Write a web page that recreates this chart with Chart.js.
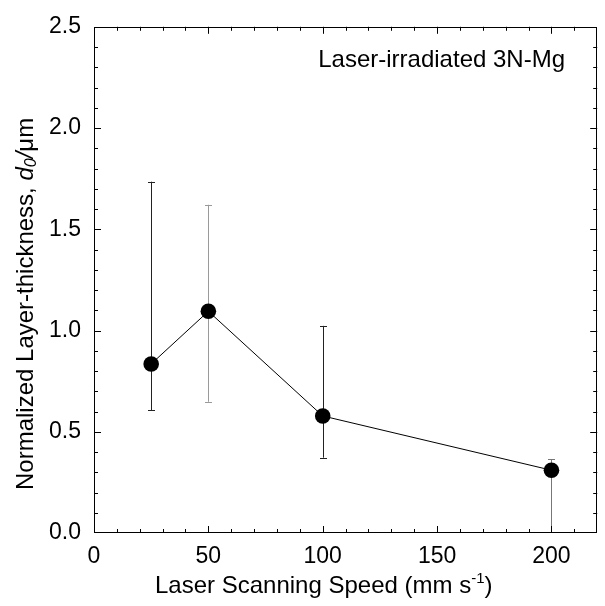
<!DOCTYPE html>
<html>
<head>
<meta charset="utf-8">
<script src="https://cdn.jsdelivr.net/npm/chart.js@4.4.1/dist/chart.umd.min.js"></script>
<style>
  html, body { margin: 0; padding: 0; background: #fff; }
  #wrap { width: 605px; height: 606px; position: relative; }
</style>
</head>
<body>
<div id="wrap"><canvas id="grafico"></canvas></div>
<script>
// values
const speeds = [25, 50, 100, 200];
const thickness = [0.835, 1.095, 0.578, 0.31];
const errLow = [0.607, 0.648, 0.372, 0.0];
const errHigh = [1.735, 1.621, 1.023, 0.365];
const xTickLabels = [0, 50, 100, 150, 200];
const yTickLabels = [0.0, 0.5, 1.0, 1.5, 2.0, 2.5];
const xMinorStep = 10;
const yMinorStep = 0.1;

const errColors = ['#222', '#9a9a9a', '#222', '#777'];
const fontFamily = '"Liberation Sans", Arial, Helvetica, sans-serif';

// error bars, frame, inward ticks, titles
const extras = {
    id: 'extras',
    beforeDatasetsDraw(chart) {
        const ctx = chart.ctx;
        const xs = chart.scales.x, ys = chart.scales.y;
        ctx.save();
        ctx.lineWidth = 1;
        speeds.forEach((s, i) => {
            const px = Math.round(xs.getPixelForValue(s)) + 0.5;
            const yTop = ys.getPixelForValue(errHigh[i]);
            const yBot = ys.getPixelForValue(errLow[i]);
            ctx.strokeStyle = errColors[i];
            ctx.beginPath();
            ctx.moveTo(px, yTop);
            ctx.lineTo(px, yBot);
            ctx.moveTo(px - 3.5, Math.round(yTop) + 0.5);
            ctx.lineTo(px + 3.5, Math.round(yTop) + 0.5);
            if (errLow[i] > 0) {
                ctx.moveTo(px - 3.5, Math.round(yBot) + 0.5);
                ctx.lineTo(px + 3.5, Math.round(yBot) + 0.5);
            }
            ctx.stroke();
        });
        ctx.restore();
    },
    afterDraw(chart) {
        const ctx = chart.ctx;
        const a = chart.chartArea;
        const xs = chart.scales.x, ys = chart.scales.y;
        ctx.save();
        ctx.strokeStyle = '#000';
        ctx.lineWidth = 1;
        ctx.strokeRect(Math.round(a.left) + 0.5, Math.round(a.top) + 0.5,
            Math.round(a.right - a.left) - 1, Math.round(a.bottom - a.top) - 1);

        ctx.beginPath();
        for (let v = xs.min + xMinorStep; v < xs.max - 1e-9; v += xMinorStep) {
            const major = Math.abs(v % 50) < 1e-6;
            const len = major ? 7 : 4;
            const px = Math.round(xs.getPixelForValue(v)) + 0.5;
            ctx.moveTo(px, a.bottom);
            ctx.lineTo(px, a.bottom - len);
            ctx.moveTo(px, a.top);
            ctx.lineTo(px, a.top + len);
        }
        for (let k = 1; k * yMinorStep < ys.max - 1e-9; k++) {
            const v = k * yMinorStep;
            const major = k % 5 === 0;
            const len = major ? 7 : 4;
            const py = Math.round(ys.getPixelForValue(v)) + 0.5;
            ctx.moveTo(a.left, py);
            ctx.lineTo(a.left + len, py);
            ctx.moveTo(a.right, py);
            ctx.lineTo(a.right - len, py);
        }
        ctx.stroke();

        ctx.fillStyle = '#000';
        ctx.textBaseline = 'alphabetic';

        // annotation
        ctx.font = '24px ' + fontFamily;
        ctx.textAlign = 'right';
        ctx.fillText('Laser-irradiated 3N-Mg', 565, 67);

        // x title with superscript
        ctx.textAlign = 'left';
        let x = 155;
        const xBase = 593;
        const t1 = 'Laser Scanning Speed (mm s';
        ctx.font = '24px ' + fontFamily;
        ctx.fillText(t1, x, xBase);
        x += ctx.measureText(t1).width;
        ctx.font = '15px ' + fontFamily;
        ctx.fillText('-1', x, xBase - 10);
        x += ctx.measureText('-1').width;
        ctx.font = '24px ' + fontFamily;
        ctx.fillText(')', x, xBase);

        // y title, rotated
        ctx.translate(33, 490);
        ctx.rotate(-Math.PI / 2);
        let y = 0;
        const parts = [
            ['Normalized Layer-thickness, ', '24px ', 0],
            ['d', 'italic 24px ', 0],
            ['0', 'italic 16px ', 3],
            ['/', 'italic 24px ', 0],
            ['\u03bcm', '24px ', 0]
        ];
        parts.forEach(([txt, f, dy]) => {
            ctx.font = f + fontFamily;
            ctx.fillText(txt, y, dy);
            y += ctx.measureText(txt).width;
        });
        ctx.restore();
    }
};

const ctx = document.getElementById('grafico').getContext('2d');
const chart = new Chart(ctx, {
    type: 'scatter',
    data: {
        datasets: [{
            label: 'Laser-irradiated 3N-Mg',
            data: speeds.map((s, i) => ({ x: s, y: thickness[i] })),
            showLine: true,
            borderColor: '#000',
            borderWidth: 1,
            backgroundColor: '#000',
            pointBackgroundColor: '#000',
            pointBorderColor: '#000',
            pointRadius: 7.8,
            pointBorderWidth: 0
        }]
    },
    options: {
        responsive: true,
        maintainAspectRatio: false,
        animation: false,
        layout: { padding: { top: 23, right: 3, left: 0, bottom: 0 } },
        plugins: {
            legend: { display: false },
            tooltip: { enabled: false }
        },
        scales: {
            x: {
                type: 'linear',
                min: 0,
                max: 220,
                afterBuildTicks: s => { s.ticks = xTickLabels.map(v => ({ value: v })); },
                afterFit: s => { s.height = 73; },
                grid: { display: false, drawTicks: false },
                border: { display: false },
                ticks: {
                    color: '#000',
                    padding: 10,
                    maxRotation: 0,
                    font: { family: fontFamily, size: 23 }
                }
            },
            y: {
                type: 'linear',
                min: 0,
                max: 2.5,
                afterBuildTicks: s => { s.ticks = yTickLabels.map(v => ({ value: v })); },
                afterFit: s => { s.width = 94; },
                grid: { display: false, drawTicks: false },
                border: { display: false },
                ticks: {
                    color: '#000',
                    padding: 13,
                    callback: v => v.toFixed(1),
                    font: { family: fontFamily, size: 23 }
                }
            }
        }
    },
    plugins: [extras]
});
</script>
</body>
</html>
